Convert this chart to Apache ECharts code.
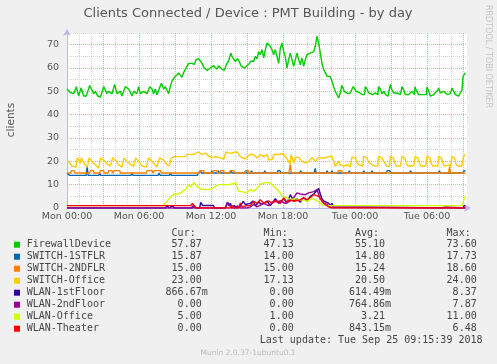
<!DOCTYPE html>
<html><head><meta charset="utf-8">
<script src="https://cdn.jsdelivr.net/npm/echarts@6/dist/echarts.min.js"></script>
<style>html,body{margin:0;padding:0;background:#f0f0f0;}#c{width:497px;height:364px;}</style>
</head><body><div id="c"></div>
<script>
// ---- data (time in hours since Mon 00:00, value = clients) ----
const hoursShown = 33 + 20 / 60;
const hourTickLabels = ['Mon 00:00', 'Mon 06:00', 'Mon 12:00', 'Mon 18:00', 'Tue 00:00', 'Tue 06:00'];
const seriesNames = ['FirewallDevice', 'SWITCH-1STFLR', 'SWITCH-2NDFLR', 'SWITCH-Office', 'WLAN-1stFloor', 'WLAN-2ndFloor', 'WLAN-Office', 'WLAN-Theater'];

const firewall = [[0,51],[0.28,49.5],[0.56,49],[0.78,52],[0.97,48],[1.17,51.5],[1.39,48],[1.61,48],[1.89,52.5],[2.22,49],[2.36,50],[2.56,48],[2.78,47.5],[3.06,52],[3.33,49],[3.47,50],[3.75,49],[3.97,53],[4.17,49],[4.44,50],[4.58,48],[4.86,52],[5.14,51],[5.42,48],[5.56,50],[5.83,49],[5.97,52],[6.11,49],[6.39,50],[6.67,49],[6.89,52],[7.08,51],[7.22,49],[7.36,51],[7.5,48.5],[7.86,53.5],[8.06,51],[8.19,52],[8.47,49],[8.61,52],[8.75,54.5],[9.0,56.4],[9.17,57],[9.3,57.9],[9.44,57.5],[9.58,56],[9.72,58],[9.85,59.3],[10.14,62],[10.42,62],[10.61,61.5],[10.75,63.6],[10.97,64],[11.25,62],[11.44,60],[11.67,59],[11.94,60],[12.22,61],[12.5,59.5],[12.64,61],[12.92,59.4],[13.11,59],[13.33,62],[13.47,63],[13.65,66.4],[13.75,65],[14.03,62.7],[14.22,64],[14.4,62.3],[14.5,61],[14.78,59.9],[15.22,62],[15.28,62.9],[15.42,63.6],[15.56,62.9],[15.69,65],[15.83,63.9],[15.97,67],[16.11,65.7],[16.25,67.9],[16.39,64.3],[16.53,67.9],[16.67,70.7],[16.81,70.4],[16.94,69.3],[17.08,67.9],[17.22,65.7],[17.36,67.9],[17.5,65],[17.64,62],[17.78,68.6],[17.92,70.7],[18.06,67],[18.19,65],[18.33,60],[18.47,63.6],[18.61,66.4],[18.75,63.6],[18.89,60.7],[19.03,63.6],[19.17,66.4],[19.31,63.6],[19.44,61.4],[19.58,64.3],[19.72,60.7],[19.86,63.6],[20.0,65.7],[20.14,65],[20.28,66.4],[20.42,65.7],[20.56,67],[20.69,69.3],[20.83,73.6],[20.97,70.7],[21.11,66.4],[21.25,62],[21.39,59.3],[21.53,58.6],[21.67,56.4],[21.81,55.7],[21.94,56.4],[22.08,54.3],[22.22,52],[22.36,50],[22.5,50],[22.64,47.13],[22.78,49.5],[22.9,52.5],[23.0,51.5],[23.1,50],[23.25,50.5],[23.4,49],[23.6,49.3],[23.75,48.6],[23.85,52],[23.95,51.5],[24.1,50],[24.25,50],[24.4,49.3],[24.6,48.6],[24.8,48.6],[24.86,52],[25.0,51],[25.14,49.3],[25.3,50],[25.45,48.6],[25.7,49.3],[25.9,48.6],[25.97,52],[26.11,51],[26.25,49],[26.4,50],[26.55,48.6],[26.75,47.9],[26.9,48.6],[26.94,52.9],[27.08,50.7],[27.22,49.3],[27.36,50],[27.5,49.3],[27.78,48.6],[27.85,48.6],[27.92,52],[28.06,50.5],[28.19,48.6],[28.47,48.6],[28.75,50],[28.95,48.6],[29.0,52],[29.1,50.5],[29.3,48.6],[29.58,48.6],[29.95,48.6],[30.0,51.8],[30.15,50],[30.28,47.9],[30.55,48.6],[30.69,48.6],[30.9,50.5],[30.97,51.4],[31.11,49.3],[31.39,50],[31.67,48.6],[31.95,49],[32.08,51.4],[32.22,50],[32.36,48.6],[32.5,48.6],[32.64,47.9],[32.78,48.6],[32.92,50.7],[33.0,56.4],[33.2,57.87]];

const switch1st = [[0,15],[0.1,15],[0.2,14],[1.6,14],[1.68,17.73],[1.76,14],[2.65,14],[2.72,15],[2.8,14],[5.35,14],[5.42,15],[5.5,14],[7.6,14],[7.68,15],[7.76,14],[8.55,14],[8.62,15],[8.7,14],[10.85,14],[10.95,15],[11.05,15],[11.12,16],[11.2,15],[12.0,15],[12.08,16],[12.16,15],[12.55,15],[12.63,16],[12.71,15],[13.6,15],[13.68,16],[13.76,15],[14.8,15],[14.88,16],[14.96,15],[15.3,15],[15.38,16],[15.46,15],[16.4,15],[16.48,16],[16.56,15],[17.5,15],[17.58,16],[17.75,16],[17.83,15],[19.4,15],[19.48,16],[19.56,15],[20.6,15],[20.68,17],[20.76,15],[21.6,15],[21.68,16],[21.76,15],[22.0,15],[22.08,16],[22.16,15],[23.45,15],[23.53,16],[23.61,15],[24.65,15],[24.73,16],[24.81,15],[25.35,15],[25.43,16],[25.51,15],[26.6,15],[26.68,16],[26.9,16],[26.98,15],[28.55,15],[28.63,16],[28.71,15],[30.95,15],[31.03,16],[31.11,15],[33.0,15],[33.08,16],[33.2,15.87]];

const switch2nd = [[0,15],[0.3,15],[0.36,16],[0.6,16],[0.66,15],[1.9,15],[1.95,16],[2.2,16],[2.25,15],[2.72,15],[2.78,16],[3.05,16],[3.1,15],[3.42,15],[3.47,16],[3.75,16],[3.8,15],[3.88,15],[3.93,16],[4.4,16],[4.45,15],[6.62,15],[6.67,16],[7.1,16],[7.15,15],[7.25,15],[7.3,16],[7.8,16],[7.85,15],[11.05,15],[11.1,16],[11.4,16],[11.45,15],[12.15,15],[12.2,16],[12.5,16],[12.55,15],[12.75,15],[12.8,16],[13.05,16],[13.1,15],[13.55,15],[13.6,16],[13.9,16],[13.95,15],[14.85,15],[14.9,16],[15.1,16],[15.15,15],[18.5,15],[18.6,18.6],[18.7,15],[22.55,15],[22.6,16],[22.9,16],[22.95,15],[31.8,15],[31.88,17.5],[31.96,15],[33.2,15]];

const switchOffice = [[0,20.5],[0.2,19.5],[0.4,18],[0.75,17.5],[0.85,21.5],[1.0,20.5],[1.1,19],[1.2,21.5],[1.35,20],[1.5,18.5],[1.7,17.5],[1.85,21.5],[2.08,20],[2.36,18.5],[2.64,17.13],[2.8,21.5],[3.06,20.5],[3.33,19],[3.61,18],[3.8,21.5],[4.11,20],[4.3,18.5],[4.58,17.5],[4.75,21.5],[5.0,20],[5.33,18.5],[5.56,18],[5.72,21.5],[5.97,20],[6.25,18],[6.62,17.5],[6.78,21.5],[7.08,20],[7.28,19],[7.5,17.5],[7.7,21.5],[8.06,20.5],[8.33,18.5],[8.5,18],[8.7,21.5],[9.03,22],[9.5,22],[9.86,22],[10.0,23],[10.56,23],[10.69,22.5],[10.92,24],[11.25,23],[11.53,23.5],[11.89,22],[12.08,21.5],[12.36,22],[12.78,21.5],[13.06,21],[13.25,24],[13.5,23.5],[13.75,23.5],[14.0,24],[14.17,24],[14.44,22],[14.86,21],[15.1,22.5],[15.28,22.9],[15.56,22.9],[15.83,21.4],[16.11,22.9],[16.39,22.1],[16.67,22.9],[16.81,20.7],[17.08,20.7],[17.25,22.9],[17.64,22.9],[17.92,23.3],[18.19,22.1],[18.47,20],[18.58,18.6],[18.68,22.9],[18.89,19.3],[19.03,21.7],[19.31,21.7],[19.58,20],[19.86,19.3],[20.14,20],[20.42,21.7],[20.69,20],[20.97,21.7],[21.25,21.4],[21.53,21.4],[21.81,22.1],[22.08,22.1],[22.22,20],[22.36,17.9],[22.5,18.5],[22.64,20],[22.78,18.6],[23.06,17.9],[23.33,18.6],[23.61,17.6],[23.75,21.9],[23.89,22.1],[24.03,21.4],[24.17,19.6],[24.31,18.6],[24.44,17.9],[24.65,18],[24.72,22.1],[25.0,21.4],[25.14,19.6],[25.42,18.6],[25.69,17.9],[25.9,18],[25.97,22.1],[26.25,21.4],[26.39,20],[26.67,17.9],[26.88,18],[26.94,22],[27.2,21.5],[27.3,19.5],[27.45,18],[27.8,18],[27.9,22],[28.15,21.5],[28.25,19.5],[28.4,18],[28.9,18],[29.0,22],[29.25,21.5],[29.35,19.5],[29.5,18],[29.9,18],[30.0,22],[30.25,21.5],[30.35,19],[30.5,18],[30.9,18],[30.97,22],[31.2,21.5],[31.3,19.5],[31.45,18],[31.85,18.5],[31.95,17.5],[32.08,22],[32.3,21.5],[32.4,19],[32.55,18],[32.7,17.5],[32.9,18],[33.05,22],[33.2,23]];

const wlan1st = [[0,0],[8.2,0],[8.35,1],[8.5,0],[8.8,1],[8.95,0],[10.5,0],[10.6,1],[10.75,0],[11.05,0],[11.15,2.4],[11.3,1.1],[12.2,1.1],[12.3,0],[13.2,0],[13.35,2.4],[13.5,1],[13.6,2],[13.75,0.5],[13.95,1],[14.1,0],[14.4,0.5],[14.7,2.9],[14.85,1.5],[15.0,2],[15.28,2],[15.5,3],[15.7,1],[15.97,2.5],[16.25,1.5],[16.67,3],[16.94,1],[17.36,4],[17.64,2],[18.06,4],[18.33,2],[18.61,5.7],[18.89,3],[19.17,4],[19.44,2.5],[19.72,4.5],[20.0,3],[20.28,5],[20.56,6],[20.83,7.5],[20.97,8.37],[21.11,6],[21.25,4],[21.39,3],[21.53,2.5],[21.81,2],[21.94,1],[22.08,2],[22.2,0.5],[22.35,0],[33.0,0],[33.1,1],[33.2,0.87]];

const wlan2nd = [[0,0],[10.35,0],[10.5,1],[10.65,0],[13.2,0],[13.4,2.4],[13.55,1],[13.7,0],[14.0,0],[14.2,1],[14.4,0],[15.0,0],[15.28,0.5],[15.56,1.5],[15.83,0.5],[16.39,2],[16.81,1],[17.22,2.5],[17.78,3],[18.19,2],[18.61,3],[18.9,4.5],[19.17,6.5],[19.31,7.1],[19.44,6],[19.58,6.4],[19.86,5.7],[20.14,6.5],[20.28,6.4],[20.56,7],[20.83,7.87],[21.11,4],[21.39,2],[21.67,1.5],[21.94,0.5],[22.08,0],[31.2,0],[31.3,0.5],[31.5,0.5],[31.6,0],[33.2,0]];

const wlanOffice = [[0,1],[8.0,1],[8.2,2],[8.5,4],[8.6,3.5],[8.9,6],[9.2,6],[9.5,6.5],[9.7,7.5],[9.9,8],[10.1,10],[10.3,9],[10.6,11],[10.8,9.5],[10.95,10],[11.2,8],[11.6,8],[12.0,8],[12.3,9],[12.6,10],[13.0,10],[13.5,10],[13.9,10.5],[14.1,10.8],[14.3,7],[14.6,7],[14.9,6.5],[15.28,7.9],[15.56,7.1],[15.83,8.5],[16.2,10.5],[16.67,11],[16.95,10.7],[17.22,9.3],[17.5,7.9],[17.78,6.4],[17.92,5],[18.3,4.5],[18.6,3.5],[19.0,4],[19.5,3.5],[20.0,3],[20.5,4],[20.83,3],[21.1,2.1],[21.4,1],[23.1,1],[23.2,1.7],[23.3,1],[32.95,1],[33.1,4],[33.2,5]];

const wlanTheater = [[0,1],[10.3,1],[10.45,2],[10.6,1.5],[10.75,0],[13.6,0],[13.75,1],[13.9,0],[14.3,0],[14.45,2.1],[14.6,0.5],[15.0,1],[15.28,1],[15.56,2.9],[15.83,2],[16.11,3.6],[16.39,2],[16.81,3],[17.08,2.2],[17.36,3.2],[17.78,2],[18.06,4.3],[18.33,2.5],[18.61,3.5],[18.89,2.9],[19.31,3.3],[19.72,4.3],[20.0,3.6],[20.28,4.5],[20.56,5.7],[20.69,6.48],[20.97,5],[21.25,3],[21.53,1.5],[21.81,0.5],[22.08,0],[31.0,0],[31.1,0.8],[31.3,0],[33.2,0]];

const curValues = ['57.87', '15.87', '15.00', '23.00', '866.67m', '0.00', '5.00', '0.00'];
const minValues = ['47.13', '14.00', '15.00', '17.13', '0.00', '0.00', '1.00', '0.00'];
const avgValues = ['55.10', '14.80', '15.24', '20.50', '614.49m', '764.86m', '3.21', '843.15m'];
const maxValues = ['73.60', '17.73', '18.60', '24.00', '8.37', '7.87', '11.00', '6.48'];
const columnHeaders = ['Cur:', 'Min:', 'Avg:', 'Max:'];
const lastUpdate = 'Last update: Tue Sep 25 09:15:39 2018';
const titleText = 'Clients Connected / Device : PMT Building - by day';

// ---- styles ----
const seriesColors = ['#00CC00', '#0066B3', '#FF8000', '#FFCC00', '#330099', '#990099', '#CCFF00', '#FF0000'];
const seriesData = [firewall, switch1st, switch2nd, switchOffice, wlan1st, wlan2nd, wlanOffice, wlanTheater];
const SANS = 'DejaVu Sans', MONO = 'DejaVu Sans Mono';
const textColor = '#444';
const gridRed = '#f3a4a4', gridGray = '#d6d6d6', axisColor = '#b8b8ec';

const chart = echarts.init(document.getElementById('c'), null, { renderer: 'canvas' });

const graphics = [];
graphics.push({ type: 'text', x: 248, y: 13.5, style: { text: titleText, font: '13px "' + SANS + '"', fill: '#555', textAlign: 'center', textVerticalAlign: 'middle' } });
graphics.push({ type: 'text', x: 11, y: 120, rotation: Math.PI / 2, style: { text: 'clients', font: '10.5px "' + SANS + '"', fill: '#555', textAlign: 'center', textVerticalAlign: 'middle' } });
graphics.push({ type: 'text', x: 488, y: 5, rotation: -Math.PI / 2, style: { text: 'RRDTOOL / TOBI OETIKER', font: '8px "' + SANS + '"', fill: '#c4c4c4', textAlign: 'left', textVerticalAlign: 'middle' } });

const cw = 6.02; // mono char width at 10px
const colRight = [201.7, 293.7, 385, 476.7];
const legendFont = '10px "' + MONO + '"';
columnHeaders.forEach((h, j) => {
  graphics.push({ type: 'text', x: colRight[j] - 5 * cw, y: 233.3, style: { text: h, font: legendFont, fill: textColor, textAlign: 'left', textVerticalAlign: 'middle' } });
});
const cols = [curValues, minValues, avgValues, maxValues];
seriesNames.forEach((name, i) => {
  const yy = 244.7 + 12 * i;
  graphics.push({ type: 'rect', shape: { x: 14, y: yy - 3, width: 6, height: 6 }, style: { fill: seriesColors[i] } });
  graphics.push({ type: 'text', x: 26.7, y: yy, style: { text: name, font: legendFont, fill: textColor, textAlign: 'left', textVerticalAlign: 'middle' } });
  cols.forEach((col, j) => {
    const v = col[i];
    const hasUnit = /[a-zA-Z]$/.test(v);
    graphics.push({ type: 'text', x: colRight[j] + (hasUnit ? cw : 0), y: yy, style: { text: v, font: legendFont, fill: textColor, textAlign: 'right', textVerticalAlign: 'middle' } });
  });
});
graphics.push({ type: 'text', x: 482.5, y: 340.7, style: { text: lastUpdate, font: legendFont, fill: textColor, textAlign: 'right', textVerticalAlign: 'middle' } });
graphics.push({ type: 'text', x: 248, y: 353.3, style: { text: 'Munin 2.0.37-1ubuntu0.1', font: '7.5px "' + SANS + '"', fill: '#bbbbbb', textAlign: 'center', textVerticalAlign: 'middle' } });

chart.setOption({
  animation: false,
  backgroundColor: '#f0f0f0',
  grid: { left: 67, top: 33, width: 400, height: 175, show: true, backgroundColor: '#ffffff', borderWidth: 0 },
  xAxis: {
    type: 'value', min: 0, max: hoursShown, interval: 1,
    axisLine: { show: true, lineStyle: { color: axisColor, width: 1 }, symbol: ['none', 'arrow'], symbolSize: [6, 7], symbolOffset: [0, 4] },
    axisTick: { show: false },
    axisLabel: {
      margin: 4, color: '#555', fontFamily: SANS, fontSize: 9.5, showMaxLabel: false, showMinLabel: true,
      formatter: (v) => (Math.abs(v % 6) < 1e-6 ? hourTickLabels[Math.round(v / 6)] : '')
    },
    splitLine: { show: true, showMinLine: true, showMaxLine: false, lineStyle: { color: [gridRed, gridGray, gridGray], type: [1, 1], width: 1 } }
  },
  yAxis: {
    type: 'value', min: 0, max: 75, interval: 5,
    axisLine: { show: true, lineStyle: { color: axisColor, width: 1 }, symbol: ['none', 'arrow'], symbolSize: [6, 7], symbolOffset: [0, 4] },
    axisTick: { show: false },
    axisLabel: {
      margin: 8, color: '#555', fontFamily: SANS, fontSize: 9.5, showMaxLabel: false,
      formatter: (v) => (v % 10 === 0 && v < 75 ? String(v) : '')
    },
    splitLine: { show: true, showMinLine: true, showMaxLine: true, lineStyle: { color: [gridRed, gridGray], type: [1, 1], width: 1 } }
  },
  series: seriesData.map((d, i) => ({
    name: seriesNames[i], type: 'line', data: d, showSymbol: false, symbol: 'none',
    lineStyle: { color: seriesColors[i], width: 1.4 }, itemStyle: { color: seriesColors[i] },
    emphasis: { disabled: true }, silent: true, z: 2 + i * 0.01
  })),
  graphic: graphics
});
</script></body></html>
